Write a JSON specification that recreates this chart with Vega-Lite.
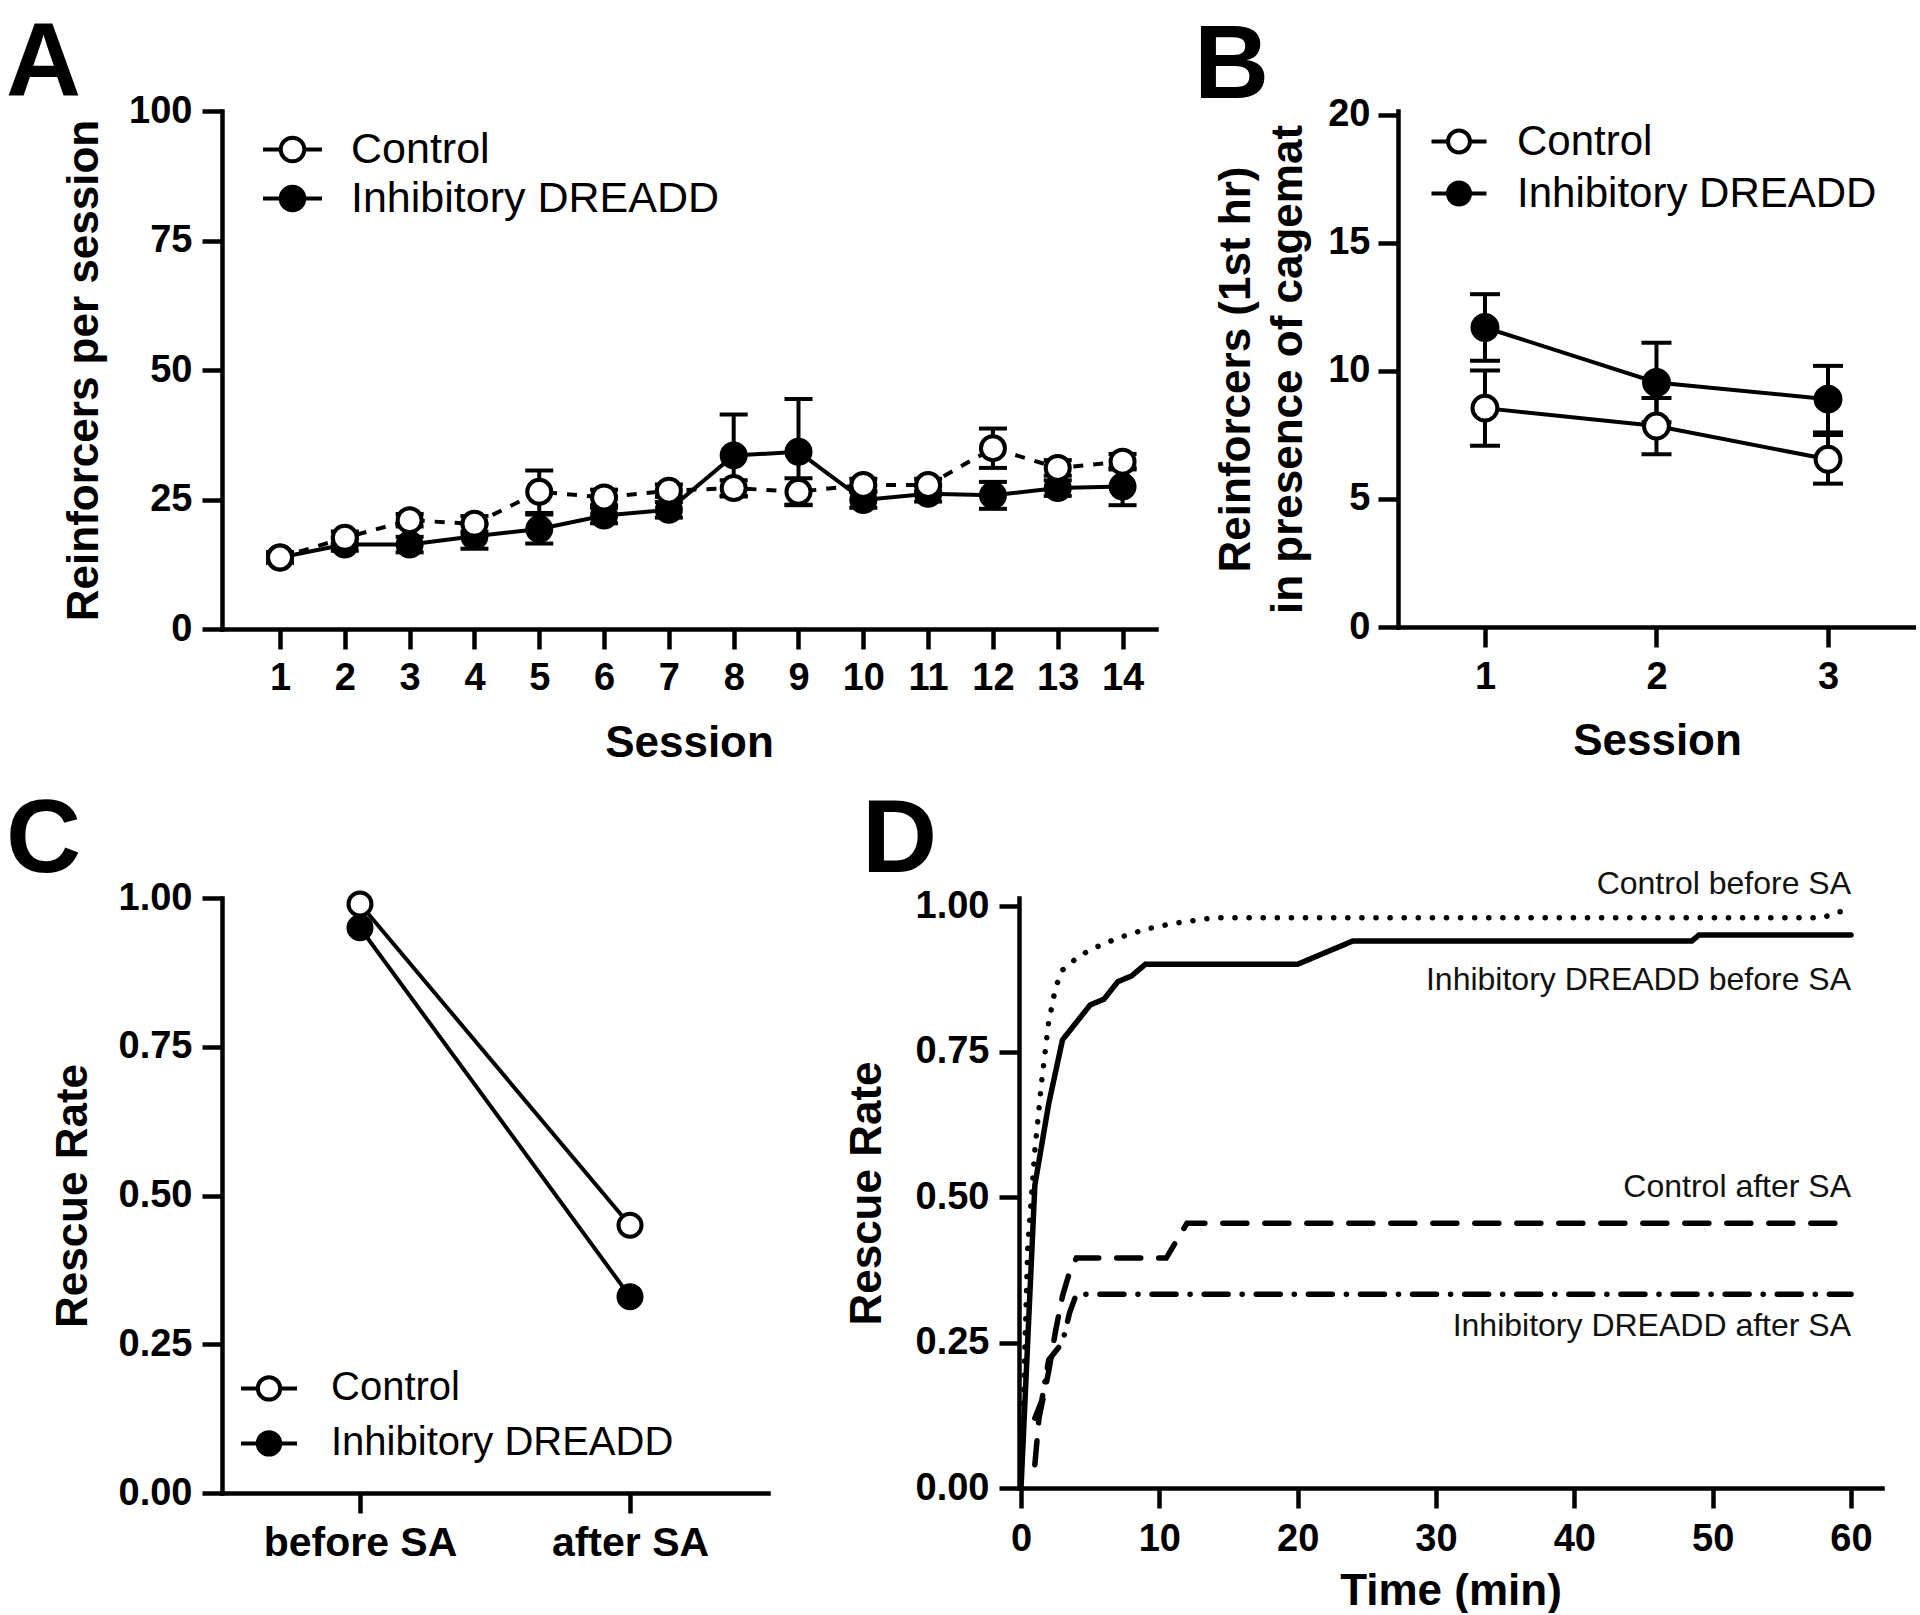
{
  "$schema": "https://vega.github.io/schema/vega-lite/v6.json",
  "background": "white",
  "autosize": {"type": "pad"},
  "padding": {"left": 6, "top": 11, "right": 0, "bottom": 0},
  "datasets": {
    "sessions14": [
      {"session": 1, "group": "Inhibitory DREADD", "mean": 13.8, "sem": 1.0},
      {"session": 2, "group": "Inhibitory DREADD", "mean": 16.3, "sem": 1.2},
      {"session": 3, "group": "Inhibitory DREADD", "mean": 16.3, "sem": 1.5},
      {"session": 4, "group": "Inhibitory DREADD", "mean": 17.9, "sem": 2.4},
      {"session": 5, "group": "Inhibitory DREADD", "mean": 19.3, "sem": 2.8},
      {"session": 6, "group": "Inhibitory DREADD", "mean": 21.9, "sem": 1.5},
      {"session": 7, "group": "Inhibitory DREADD", "mean": 23.0, "sem": 1.5},
      {"session": 8, "group": "Inhibitory DREADD", "mean": 33.5, "sem": 7.9},
      {"session": 9, "group": "Inhibitory DREADD", "mean": 34.2, "sem": 10.2},
      {"session": 10, "group": "Inhibitory DREADD", "mean": 24.9, "sem": 1.5},
      {"session": 11, "group": "Inhibitory DREADD", "mean": 26.1, "sem": 1.5},
      {"session": 12, "group": "Inhibitory DREADD", "mean": 25.8, "sem": 2.6},
      {"session": 13, "group": "Inhibitory DREADD", "mean": 27.2, "sem": 1.5},
      {"session": 14, "group": "Inhibitory DREADD", "mean": 27.5, "sem": 3.6},
      {"session": 1, "group": "Control", "mean": 13.8, "sem": 1.0},
      {"session": 2, "group": "Control", "mean": 17.6, "sem": 1.2},
      {"session": 3, "group": "Control", "mean": 21.0, "sem": 1.2},
      {"session": 4, "group": "Control", "mean": 20.3, "sem": 1.5},
      {"session": 5, "group": "Control", "mean": 26.5, "sem": 4.1},
      {"session": 6, "group": "Control", "mean": 25.4, "sem": 1.5},
      {"session": 7, "group": "Control", "mean": 26.7, "sem": 1.2},
      {"session": 8, "group": "Control", "mean": 27.2, "sem": 1.5},
      {"session": 9, "group": "Control", "mean": 26.5, "sem": 2.6},
      {"session": 10, "group": "Control", "mean": 27.8, "sem": 1.2},
      {"session": 11, "group": "Control", "mean": 27.8, "sem": 1.2},
      {"session": 12, "group": "Control", "mean": 34.9, "sem": 3.8},
      {"session": 13, "group": "Control", "mean": 31.1, "sem": 1.5},
      {"session": 14, "group": "Control", "mean": 32.3, "sem": 1.5}
    ],
    "sessions3": [
      {"session": 1, "group": "Inhibitory DREADD", "mean": 11.7, "sem": 1.3},
      {"session": 2, "group": "Inhibitory DREADD", "mean": 9.55, "sem": 1.55},
      {"session": 3, "group": "Inhibitory DREADD", "mean": 8.9, "sem": 1.3},
      {"session": 1, "group": "Control", "mean": 8.55, "sem": 1.47},
      {"session": 2, "group": "Control", "mean": 7.85, "sem": 1.1},
      {"session": 3, "group": "Control", "mean": 6.55, "sem": 0.95}
    ],
    "rescue": [
      {"phase": "before SA", "group": "Inhibitory DREADD", "rate": 0.95},
      {"phase": "after SA", "group": "Inhibitory DREADD", "rate": 0.33},
      {"phase": "before SA", "group": "Control", "rate": 0.99},
      {"phase": "after SA", "group": "Control", "rate": 0.45}
    ],
    "curves": [
      {"curve": "Control before SA", "time": 0, "rate": 0},
      {"curve": "Control before SA", "time": 0.5, "rate": 0.42},
      {"curve": "Control before SA", "time": 1, "rate": 0.58},
      {"curve": "Control before SA", "time": 1.5, "rate": 0.7},
      {"curve": "Control before SA", "time": 2, "rate": 0.8},
      {"curve": "Control before SA", "time": 2.5, "rate": 0.86},
      {"curve": "Control before SA", "time": 3, "rate": 0.89},
      {"curve": "Control before SA", "time": 4, "rate": 0.91},
      {"curve": "Control before SA", "time": 5, "rate": 0.925},
      {"curve": "Control before SA", "time": 7, "rate": 0.945},
      {"curve": "Control before SA", "time": 9, "rate": 0.96},
      {"curve": "Control before SA", "time": 11, "rate": 0.97},
      {"curve": "Control before SA", "time": 14, "rate": 0.98},
      {"curve": "Control before SA", "time": 58, "rate": 0.98},
      {"curve": "Control before SA", "time": 59, "rate": 0.99},
      {"curve": "Control before SA", "time": 60, "rate": 0.99},
      {"curve": "Inhibitory DREADD before SA", "time": 0, "rate": 0},
      {"curve": "Inhibitory DREADD before SA", "time": 1, "rate": 0.52},
      {"curve": "Inhibitory DREADD before SA", "time": 2, "rate": 0.66},
      {"curve": "Inhibitory DREADD before SA", "time": 3, "rate": 0.77},
      {"curve": "Inhibitory DREADD before SA", "time": 4, "rate": 0.8},
      {"curve": "Inhibitory DREADD before SA", "time": 5, "rate": 0.83},
      {"curve": "Inhibitory DREADD before SA", "time": 6, "rate": 0.84},
      {"curve": "Inhibitory DREADD before SA", "time": 7, "rate": 0.87},
      {"curve": "Inhibitory DREADD before SA", "time": 8, "rate": 0.88},
      {"curve": "Inhibitory DREADD before SA", "time": 9, "rate": 0.9},
      {"curve": "Inhibitory DREADD before SA", "time": 20, "rate": 0.9},
      {"curve": "Inhibitory DREADD before SA", "time": 24, "rate": 0.94},
      {"curve": "Inhibitory DREADD before SA", "time": 48.5, "rate": 0.94},
      {"curve": "Inhibitory DREADD before SA", "time": 49, "rate": 0.95},
      {"curve": "Inhibitory DREADD before SA", "time": 60, "rate": 0.95},
      {"curve": "Control after SA", "time": 1, "rate": 0.04},
      {"curve": "Control after SA", "time": 1.3, "rate": 0.12},
      {"curve": "Control after SA", "time": 2, "rate": 0.2},
      {"curve": "Control after SA", "time": 2.5, "rate": 0.27},
      {"curve": "Control after SA", "time": 3, "rate": 0.33},
      {"curve": "Control after SA", "time": 3.5, "rate": 0.37},
      {"curve": "Control after SA", "time": 4, "rate": 0.395},
      {"curve": "Control after SA", "time": 10.5, "rate": 0.395},
      {"curve": "Control after SA", "time": 12, "rate": 0.455},
      {"curve": "Control after SA", "time": 60, "rate": 0.455},
      {"curve": "Inhibitory DREADD after SA", "time": 1, "rate": 0.12},
      {"curve": "Inhibitory DREADD after SA", "time": 1.5, "rate": 0.15},
      {"curve": "Inhibitory DREADD after SA", "time": 2, "rate": 0.22},
      {"curve": "Inhibitory DREADD after SA", "time": 3, "rate": 0.25},
      {"curve": "Inhibitory DREADD after SA", "time": 3.5, "rate": 0.3},
      {"curve": "Inhibitory DREADD after SA", "time": 4, "rate": 0.333},
      {"curve": "Inhibitory DREADD after SA", "time": 60, "rate": 0.333}
    ],
    "curveLabels": [
      {"label": "Control before SA", "time": 60, "rate": 1.038},
      {"label": "Inhibitory DREADD before SA", "time": 60, "rate": 0.873},
      {"label": "Control after SA", "time": 60, "rate": 0.517},
      {"label": "Inhibitory DREADD after SA", "time": 60, "rate": 0.278}
    ]
  },
  "spacing": 24,
  "resolve": {
    "scale": {"fill": "independent", "strokeDash": "independent"},
    "legend": {"fill": "independent", "strokeDash": "independent"}
  },
  "vconcat": [
    {
      "hconcat": [
        {
          "width": 934,
          "height": 518,
          "title": {"text": "A", "dx": -216, "offset": -24.5},
          "data": {"name": "sessions14"},
          "encoding": {
            "x": {"field": "session", "type": "quantitative",
              "scale": {"domain": [0.105, 14.516], "nice": false, "zero": false},
              "axis": {"values": [1,2,3,4,5,6,7,8,9,10,11,12,13,14], "title": "Session", "labelPadding": 10, "titlePadding": 24}},
            "y": {"field": "mean", "type": "quantitative",
              "scale": {"domain": [0, 100], "nice": false},
              "axis": {"values": [0,25,50,75,100], "title": "Reinforcers per session", "labelPadding": 10, "titlePadding": 22}}
          },
          "layer": [
            {
              "transform": [{"filter": "datum.group === 'Control'"}],
              "mark": {"type": "line", "strokeWidth": 4, "color": "black", "strokeDash": [10, 10]},
              "encoding": {}
            },
            {
              "transform": [{"filter": "datum.group === 'Inhibitory DREADD'"}],
              "mark": {"type": "line", "strokeWidth": 4, "color": "black"},
              "encoding": {}
            },
            {
              "mark": {"type": "errorbar", "color": "black", "thickness": 4, "opacity": 1,
                "rule": {"color": "black", "opacity": 1, "strokeWidth": 4},
                "ticks": {"size": 28, "thickness": 4, "color": "black", "opacity": 1}},
              "encoding": {"yError": {"field": "sem"}}
            },
            {
              "mark": {"type": "point", "shape": "circle", "filled": true, "size": 576, "stroke": "black", "strokeWidth": 4, "opacity": 1},
              "encoding": {
                "fill": {"field": "group", "type": "nominal",
                  "scale": {"domain": ["Control", "Inhibitory DREADD"], "range": ["white", "black"]},
                  "legend": {"orient": "none", "legendX": 49, "legendY": 17, "title": null, "padding": 0,
                    "symbolSize": 870, "labelFontSize": 43, "labelOffset": 37, "rowPadding": 5}}
              }
            }
          ]
        },
        {
          "width": 518,
          "height": 516,
          "title": {"text": "B", "dx": -204, "offset": -24.5},
          "data": {"name": "sessions3"},
          "encoding": {
            "x": {"field": "session", "type": "quantitative",
              "scale": {"domain": [0.493, 3.513], "nice": false, "zero": false},
              "axis": {"values": [1, 2, 3], "title": "Session", "labelPadding": 11, "titlePadding": 23}},
            "y": {"field": "mean", "type": "quantitative",
              "scale": {"domain": [0, 20.156], "nice": false},
              "axis": {"values": [0, 5, 10, 15, 20], "title": ["Reinforcers (1st hr)", "in presence of cagemat"], "titleLineHeight": 52, "labelPadding": 8, "titlePadding": 17}}
          },
          "layer": [
            {
              "mark": {"type": "line", "strokeWidth": 4, "color": "black"},
              "encoding": {"detail": {"field": "group"}}
            },
            {
              "mark": {"type": "errorbar", "color": "black", "thickness": 4, "opacity": 1,
                "rule": {"color": "black", "opacity": 1, "strokeWidth": 4},
                "ticks": {"size": 30, "thickness": 4, "color": "black", "opacity": 1}},
              "encoding": {"yError": {"field": "sem"}}
            },
            {
              "mark": {"type": "point", "shape": "circle", "filled": true, "size": 620, "stroke": "black", "strokeWidth": 4, "opacity": 1},
              "encoding": {
                "fill": {"field": "group", "type": "nominal",
                  "scale": {"domain": ["Control", "Inhibitory DREADD"], "range": ["white", "black"]},
                  "legend": {"orient": "none", "legendX": 40, "legendY": 9.5, "title": null, "padding": 0,
                    "symbolSize": 756, "labelFontSize": 42, "labelOffset": 37, "rowPadding": 10}}
              }
            }
          ]
        }
      ],
      "spacing": 242,
      "bounds": "flush",
      "resolve": {
        "scale": {"fill": "independent", "strokeDash": "independent"},
        "legend": {"fill": "independent", "strokeDash": "independent"}
      }
    },
    {
      "hconcat": [
        {
          "width": 546,
          "height": 595,
          "title": {"text": "C", "dx": -216, "offset": -15.2},
          "data": {"name": "rescue"},
          "encoding": {
            "x": {"field": "phase", "type": "nominal", "sort": ["before SA", "after SA"],
              "scale": {"type": "point", "domain": ["before SA", "after SA"], "padding": 0.511},
              "axis": {"title": null, "labelAngle": 0, "labelFontSize": 41, "labelPadding": 10}},
            "y": {"field": "rate", "type": "quantitative",
              "scale": {"domain": [0, 1], "nice": false},
              "axis": {"values": [0, 0.25, 0.5, 0.75, 1], "format": ".2f", "title": "Rescue Rate", "labelPadding": 10, "titlePadding": 23}}
          },
          "layer": [
            {
              "mark": {"type": "line", "strokeWidth": 4, "color": "black"},
              "encoding": {"detail": {"field": "group"}}
            },
            {
              "mark": {"type": "point", "shape": "circle", "filled": true, "size": 529, "stroke": "black", "strokeWidth": 4, "opacity": 1},
              "encoding": {
                "fill": {"field": "group", "type": "nominal",
                  "scale": {"domain": ["Control", "Inhibitory DREADD"], "range": ["white", "black"]},
                  "legend": {"orient": "none", "legendX": 27, "legendY": 470.4, "title": null, "padding": 0,
                    "symbolSize": 784, "labelFontSize": 40, "labelOffset": 42, "rowPadding": 15}}
              }
            }
          ]
        },
        {
          "width": 863,
          "height": 590,
          "title": {"text": "D", "dx": -157, "offset": -26.2},
          "encoding": {
            "x": {"field": "time", "type": "quantitative",
              "scale": {"domain": [-0.145, 62.24], "nice": false, "zero": false},
              "axis": {"values": [0, 10, 20, 30, 40, 50, 60], "title": "Time (min)", "labelPadding": 12, "titlePadding": 11}},
            "y": {"field": "rate", "type": "quantitative",
              "scale": {"domain": [0, 1.013746], "nice": false},
              "axis": {"values": [0, 0.25, 0.5, 0.75, 1], "format": ".2f", "title": "Rescue Rate", "labelPadding": 10, "titlePadding": 26}}
          },
          "layer": [
            {
              "data": {"name": "curves"},
              "mark": {"type": "line", "strokeWidth": 5.5, "color": "black", "strokeCap": "round"},
              "encoding": {
                "strokeDash": {"field": "curve", "type": "nominal",
                  "scale": {"domain": ["Control before SA", "Inhibitory DREADD before SA", "Control after SA", "Inhibitory DREADD after SA"],
                    "range": [[0.1, 14], [1, 0], [24, 18], [24, 14, 0.1, 14]]},
                  "legend": null}
              }
            },
            {
              "data": {"name": "curveLabels"},
              "mark": {"type": "text", "align": "right", "baseline": "middle", "fontSize": 32, "font": "Liberation Sans", "color": "#111111"},
              "encoding": {"text": {"field": "label"}}
            }
          ]
        }
      ],
      "spacing": 251,
      "bounds": "flush",
      "resolve": {
        "scale": {"fill": "independent", "strokeDash": "independent"},
        "legend": {"fill": "independent", "strokeDash": "independent"}
      }
    }
  ],
  "config": {
    "font": "Liberation Sans",
    "view": {"stroke": null},
    "title": {"font": "Liberation Sans", "fontSize": 104, "fontWeight": "bold", "anchor": "start", "frame": "group", "color": "black", "offset": 0},
    "axis": {
      "domainColor": "black", "domainWidth": 4.5, "domainCap": "square",
      "tickColor": "black", "tickWidth": 4.5, "tickSize": 20,
      "labelFont": "Liberation Sans", "labelFontWeight": "bold", "labelFontSize": 38, "labelColor": "black",
      "labelFlush": false, "labelOverlap": false, "labelLimit": 0,
      "titleFont": "Liberation Sans", "titleFontWeight": "bold", "titleFontSize": 44, "titleColor": "black",
      "grid": false
    },
    "legend": {
      "symbolType": "M-2,0H-0.8M0.8,0H2M0.8,0A0.8,0.8,0,1,1,-0.8,0A0.8,0.8,0,1,1,0.8,0",
      "symbolStrokeColor": "black", "symbolStrokeWidth": 4, "symbolOpacity": 1,
      "labelFont": "Liberation Sans", "labelFontWeight": "normal", "labelColor": "black", "labelLimit": 0,
      "direction": "vertical"
    }
  }
}
